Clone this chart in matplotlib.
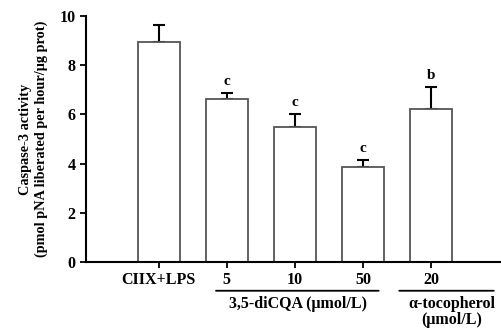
import numpy as np
import matplotlib.pyplot as plt

plt.rcParams['font.family'] = ['Liberation Serif', 'DejaVu Serif']
plt.rcParams['font.weight'] = 'bold'

labels = ['CIIX+LPS', '5', '10', '50', '20']
means = [8.94, 6.63, 5.49, 3.86, 6.22]
errs = [0.69, 0.24, 0.53, 0.29, 0.89]
sig = ['', 'c', 'c', 'c', 'b']

fig = plt.figure(figsize=(5.02, 3.35), dpi=100)
ax = fig.add_axes([0.171, 0.218, 0.825, 0.734])

x = np.arange(len(labels))
ax.bar(x, means, width=0.62, color='white', edgecolor='#555555', linewidth=1.3, zorder=2)
ax.errorbar(x, means, yerr=[np.zeros(len(errs)), errs], fmt='none', ecolor='black',
            elinewidth=1.5, capsize=4, capthick=1.5, zorder=1)
for xi, m, e, s in zip(x, means, errs, sig):
    if s:
        ax.text(xi, m + e + 0.2, s, ha='center', va='bottom', fontsize=11, fontweight='bold')

ax.set_xlim(-1.07, 5.01)
ax.set_ylim(0, 10)
ax.set_yticks([0, 2, 4, 6, 8, 10])
ax.set_xticks(x)
ax.set_xticklabels(labels)
ax.tick_params(labelsize=11.5, width=1.3, length=4, direction='out')
ax.tick_params(axis='x', pad=3)
for t in ax.get_xticklabels() + ax.get_yticklabels():
    t.set_fontweight('bold')
ax.spines['top'].set_visible(False)
ax.spines['right'].set_visible(False)
ax.spines['left'].set_linewidth(1.5)
ax.spines['bottom'].set_linewidth(1.5)

ax.set_ylabel('Caspase-3 activity\n(pmol pNA liberated per hour/\u03bcg prot)',
              fontsize=10.3, fontweight='bold', labelpad=8, linespacing=1.3)

# group brackets under axis
ax.annotate('', xy=(0.80, -0.117), xytext=(3.27, -0.117), xycoords=('data', 'axes fraction'),
            textcoords=('data', 'axes fraction'),
            arrowprops=dict(arrowstyle='-', lw=1.3, color='black'))
ax.annotate('', xy=(3.49, -0.117), xytext=(4.96, -0.117), xycoords=('data', 'axes fraction'),
            textcoords=('data', 'axes fraction'),
            arrowprops=dict(arrowstyle='-', lw=1.3, color='black'))
ax.text(2.05, -0.14, '3,5-diCQA (\u03bcmol/L)', transform=ax.get_xaxis_transform(),
        ha='center', va='top', fontsize=11.5, fontweight='bold')
ax.text(4.30, -0.14, '\u03b1-tocopherol\n(\u03bcmol/L)', transform=ax.get_xaxis_transform(),
        ha='center', va='top', fontsize=11.5, fontweight='bold', linespacing=1.0)

fig.savefig('out.png', dpi=100)
